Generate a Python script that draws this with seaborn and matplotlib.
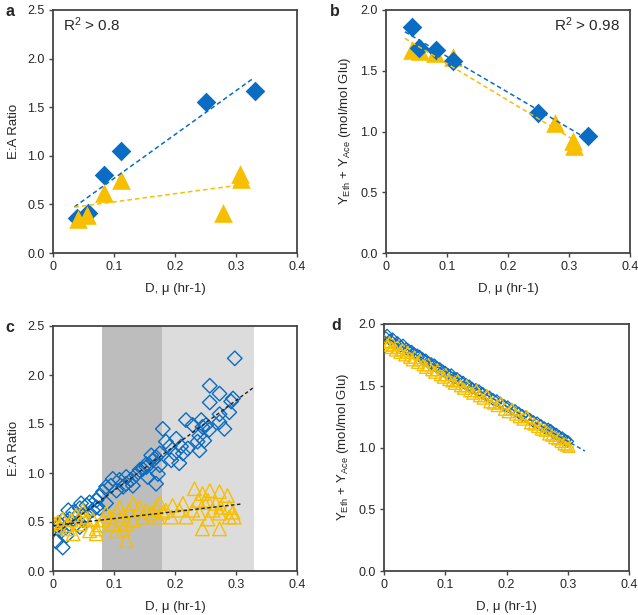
import numpy as np
import pandas as pd
import matplotlib
matplotlib.use("Agg")
import matplotlib.pyplot as plt
import seaborn as sns

# ---------------- data ----------------
# panel a: E:A ratio (chemostat)
a_blue_x = [0.040, 0.057, 0.084, 0.112, 0.250, 0.331]
a_blue_y = [0.36, 0.41, 0.80, 1.05, 1.55, 1.67]
a_yel_x = [0.041, 0.056, 0.083, 0.112, 0.278, 0.307, 0.309]
a_yel_y = [0.35, 0.39, 0.62, 0.75, 0.41, 0.81, 0.76]

# panel b: Y_Eth + Y_Ace
b_blue_x = [0.043, 0.054, 0.082, 0.110, 0.249, 0.331]
b_blue_y = [1.86, 1.69, 1.67, 1.58, 1.15, 0.96]
b_yel_x = [0.042, 0.056, 0.080, 0.110, 0.277, 0.306, 0.308]
b_yel_y = [1.67, 1.66, 1.65, 1.61, 1.07, 0.92, 0.88]

# panel c: E:A ratio (model)
c_blue_x = [0.298, 0.257, 0.273, 0.257, 0.295, 0.292, 0.289, 0.273, 0.281, 0.273,
            0.218, 0.229, 0.243, 0.245, 0.251, 0.256, 0.240, 0.248, 0.237, 0.240,
            0.180, 0.185, 0.202, 0.210, 0.191, 0.199, 0.213, 0.221, 0.194, 0.207,
            0.175, 0.169, 0.164, 0.175, 0.172, 0.169, 0.155, 0.153, 0.147, 0.142,
            0.136, 0.128, 0.131, 0.120, 0.115, 0.120, 0.109, 0.098, 0.095, 0.104,
            0.087, 0.082, 0.076, 0.071, 0.060, 0.055, 0.046, 0.044, 0.065, 0.076,
            0.087, 0.033, 0.025, 0.027, 0.016, 0.011, 0.008, 0.014, 0.022, 0.005,
            0.016, 0.038, 0.044, 0.049, 0.022, 0.055, 0.071, 0.153, 0.161]
c_blue_y = [2.17, 1.89, 1.81, 1.72, 1.76, 1.73, 1.62, 1.60, 1.45, 1.52,
            1.54, 1.49, 1.54, 1.47, 1.49, 1.44, 1.38, 1.33, 1.32, 1.23,
            1.45, 1.32, 1.35, 1.27, 1.27, 1.20, 1.20, 1.25, 1.13, 1.10,
            1.20, 1.16, 1.13, 1.08, 0.99, 0.89, 0.96, 1.06, 1.04, 1.03,
            0.98, 0.93, 0.87, 0.89, 0.86, 0.96, 0.93, 0.94, 0.87, 0.82,
            0.86, 0.81, 0.76, 0.72, 0.70, 0.67, 0.69, 0.64, 0.62, 0.64,
            0.69, 0.60, 0.62, 0.53, 0.52, 0.48, 0.45, 0.41, 0.36, 0.30,
            0.24, 0.48, 0.45, 0.52, 0.45, 0.57, 0.65, 1.09, 1.18]
c_yel_x = [0.232, 0.257, 0.245, 0.273, 0.286, 0.238, 0.248, 0.254, 0.267, 0.275,
           0.289, 0.295, 0.297, 0.289, 0.254, 0.245, 0.273, 0.218, 0.207, 0.196,
           0.213, 0.175, 0.169, 0.185, 0.172, 0.153, 0.142, 0.131, 0.125, 0.109,
           0.104, 0.115, 0.120, 0.115, 0.120, 0.093, 0.082, 0.076, 0.071, 0.087,
           0.065, 0.055, 0.049, 0.044, 0.060, 0.049, 0.038, 0.030, 0.022, 0.016,
           0.008, 0.003, 0.011, 0.025, 0.033, 0.071, 0.147, 0.161, 0.180, 0.194,
           0.229, 0.240, 0.262, 0.273, 0.131, 0.098, 0.104]
c_yel_y = [0.84, 0.82, 0.79, 0.81, 0.77, 0.72, 0.70, 0.72, 0.69, 0.65,
           0.65, 0.60, 0.55, 0.55, 0.53, 0.43, 0.43, 0.55, 0.62, 0.67,
           0.69, 0.69, 0.65, 0.62, 0.55, 0.62, 0.65, 0.69, 0.62, 0.65,
           0.60, 0.57, 0.48, 0.43, 0.31, 0.55, 0.52, 0.47, 0.43, 0.59,
           0.53, 0.52, 0.55, 0.48, 0.41, 0.62, 0.57, 0.52, 0.47, 0.53,
           0.50, 0.48, 0.45, 0.43, 0.38, 0.38, 0.55, 0.59, 0.60, 0.55,
           0.62, 0.59, 0.62, 0.59, 0.52, 0.48, 0.41]

# panel d: Y_Eth + Y_Ace (model)
d_blue_x = [0.003, 0.005, 0.010, 0.014, 0.018, 0.022, 0.027, 0.031, 0.036, 0.040,
            0.045, 0.049, 0.054, 0.058, 0.063, 0.068, 0.072, 0.077, 0.082, 0.086,
            0.091, 0.096, 0.100, 0.105, 0.110, 0.114, 0.119, 0.124, 0.129, 0.134,
            0.139, 0.144, 0.150, 0.155, 0.161, 0.167, 0.172, 0.178, 0.184, 0.190,
            0.196, 0.202, 0.208, 0.214, 0.220, 0.226, 0.232, 0.238, 0.244, 0.250,
            0.256, 0.262, 0.268, 0.272, 0.276, 0.281, 0.286, 0.291, 0.296, 0.300]
d_blue_y = [1.89, 1.91, 1.87, 1.88, 1.84, 1.85, 1.82, 1.83, 1.80, 1.79,
            1.78, 1.76, 1.75, 1.74, 1.72, 1.71, 1.69, 1.68, 1.67, 1.65,
            1.64, 1.62, 1.61, 1.59, 1.59, 1.56, 1.56, 1.54, 1.53, 1.51,
            1.50, 1.48, 1.47, 1.46, 1.44, 1.42, 1.41, 1.39, 1.38, 1.36,
            1.34, 1.33, 1.31, 1.30, 1.28, 1.26, 1.25, 1.23, 1.21, 1.20,
            1.18, 1.16, 1.15, 1.14, 1.12, 1.11, 1.09, 1.08, 1.06, 1.05]
d_yel_x = [0.002, 0.006, 0.009, 0.012, 0.015, 0.019, 0.023, 0.026, 0.030, 0.034,
           0.038, 0.042, 0.046, 0.050, 0.055, 0.059, 0.064, 0.068, 0.073, 0.078,
           0.083, 0.087, 0.092, 0.097, 0.101, 0.106, 0.111, 0.115, 0.120, 0.125,
           0.130, 0.135, 0.140, 0.145, 0.151, 0.156, 0.162, 0.168, 0.173, 0.179,
           0.185, 0.191, 0.197, 0.203, 0.209, 0.215, 0.221, 0.227, 0.233, 0.239,
           0.245, 0.251, 0.257, 0.263, 0.269, 0.274, 0.279, 0.284, 0.289, 0.294,
           0.298, 0.302]
d_yel_y = [1.86, 1.83, 1.85, 1.81, 1.83, 1.79, 1.81, 1.77, 1.79, 1.75,
           1.77, 1.73, 1.71, 1.73, 1.69, 1.71, 1.67, 1.65, 1.67, 1.63,
           1.61, 1.63, 1.59, 1.57, 1.59, 1.55, 1.54, 1.52, 1.54, 1.50,
           1.48, 1.50, 1.46, 1.44, 1.46, 1.42, 1.40, 1.42, 1.37, 1.36,
           1.34, 1.36, 1.31, 1.29, 1.31, 1.27, 1.25, 1.23, 1.25, 1.20,
           1.19, 1.17, 1.15, 1.14, 1.11, 1.10, 1.08, 1.07, 1.05, 1.03,
           1.02, 1.01]

# shaded regimes in panel c
band_dark = (0.081, 0.178)
band_light = (0.178, 0.330)

x_ticks = [0, 0.1, 0.2, 0.3, 0.4]
x_ticklabels = ["0", "0.1", "0.2", "0.3", "0.4"]
ea_ticks = [0, 0.5, 1.0, 1.5, 2.0, 2.5]
y_ticks = [0, 0.5, 1.0, 1.5, 2.0]

# ---------------- style ----------------
sns.set_style("ticks")
plt.rcParams["font.family"] = ["Liberation Sans", "DejaVu Sans"]
plt.rcParams["mathtext.fontset"] = "custom"
plt.rcParams["mathtext.rm"] = "Liberation Sans"
plt.rcParams["mathtext.it"] = "Liberation Sans"

BLUE = "#0a6cc2"
GOLD = "#f7bf00"
SPINE = "#444444"
FS = 9

fig = plt.figure(figsize=(6.38, 6.15), dpi=100)
W, H = 638, 615
def add_ax(l, t, r, b):
    return fig.add_axes([l / W, 1 - b / H, (r - l) / W, (b - t) / H])

ax_a = add_ax(53, 10, 297, 253)
ax_b = add_ax(386, 10, 630, 253)
ax_c = add_ax(53, 326, 297, 571)
ax_d = add_ax(384, 324, 629, 571)

def style(ax, ylim, yticks, ylabel):
    ax.set_xlim(0, 0.4)
    ax.set_ylim(*ylim)
    ax.set_xticks(x_ticks)
    ax.set_xticklabels(x_ticklabels)
    ax.set_yticks(yticks)
    ax.set_yticklabels([f"{v:.1f}" for v in yticks])
    ax.set_xlabel("D, μ (hr-1)", fontsize=FS + 0.5, labelpad=7)
    ax.set_ylabel(ylabel, fontsize=FS + 0.5, labelpad=5)
    ax.tick_params(labelsize=FS, length=3, width=1, color=SPINE, direction="out", pad=3)
    for s in ax.spines.values():
        s.set_color(SPINE)
        s.set_linewidth(1.3)
        s.set_visible(True)

def fitline(ax, x, y, x0, x1, color, lw=1.1, dashes=(3, 2)):
    k, c = np.polyfit(x, y, 1)
    xs = np.array([x0, x1])
    ax.plot(xs, k * xs + c, color=color, lw=lw, dashes=dashes, zorder=3)

YLAB = r"Y$_{\mathrm{Eth}}$ + Y$_{\mathrm{Ace}}$ (mol/mol Glu)"

# ---- panel a ----
sns.scatterplot(x=a_blue_x, y=a_blue_y, marker="D", s=100, color=BLUE, edgecolor=BLUE, linewidth=0, ax=ax_a, zorder=2)
sns.scatterplot(x=a_yel_x, y=a_yel_y, marker="^", s=180, color=GOLD, edgecolor=GOLD, linewidth=0, ax=ax_a, zorder=2)
fitline(ax_a, a_blue_x, a_blue_y, 0.035, 0.327, BLUE)
fitline(ax_a, a_yel_x, a_yel_y, 0.035, 0.31, GOLD)
style(ax_a, (0, 2.5), ea_ticks, "E:A Ratio")
ax_a.text(0.04, 0.94, r"R$^2$ > 0.8", transform=ax_a.transAxes, fontsize=11, va="center", ha="left")

# ---- panel b ----
sns.scatterplot(x=b_blue_x, y=b_blue_y, marker="D", s=100, color=BLUE, edgecolor=BLUE, linewidth=0, ax=ax_b, zorder=3)
sns.scatterplot(x=b_yel_x, y=b_yel_y, marker="^", s=180, color=GOLD, edgecolor=GOLD, linewidth=0, ax=ax_b, zorder=2)
fitline(ax_b, b_blue_x, b_blue_y, 0.031, 0.329, BLUE)
fitline(ax_b, b_yel_x, b_yel_y, 0.031, 0.313, GOLD)
style(ax_b, (0, 2.0), y_ticks, YLAB)
ax_b.text(0.96, 0.94, r"R$^2$ > 0.98", transform=ax_b.transAxes, fontsize=11, va="center", ha="right")

# ---- panel c ----
ax_c.axvspan(*band_dark, color="#bdbdbd", lw=0, zorder=0)
ax_c.axvspan(*band_light, color="#dcdcdc", lw=0, zorder=0)
sns.scatterplot(x=c_blue_x, y=c_blue_y, marker="D", s=55, facecolor="none", edgecolor=BLUE, linewidth=1.0, ax=ax_c, zorder=2)
sns.scatterplot(x=c_yel_x, y=c_yel_y, marker="^", s=95, facecolor="none", edgecolor=GOLD, linewidth=1.0, ax=ax_c, zorder=2)
fitline(ax_c, c_blue_x, c_blue_y, 0.0, 0.33, "#222222", lw=1.0, dashes=(2.5, 1.8))
fitline(ax_c, c_yel_x, c_yel_y, 0.0, 0.31, "#222222", lw=1.0, dashes=(2.5, 1.8))
style(ax_c, (0, 2.5), ea_ticks, "E:A Ratio")

# ---- panel d ----
sns.scatterplot(x=d_blue_x, y=d_blue_y, marker="D", s=35, facecolor="none", edgecolor=BLUE, linewidth=0.9, ax=ax_d, zorder=2)
sns.scatterplot(x=d_yel_x, y=d_yel_y, marker="^", s=75, facecolor="none", edgecolor=GOLD, linewidth=1.0, ax=ax_d, zorder=3)
fitline(ax_d, d_blue_x, d_blue_y, 0.0, 0.328, BLUE, lw=1.0)
fitline(ax_d, d_yel_x, d_yel_y, 0.0, 0.31, GOLD, lw=1.0)
style(ax_d, (0, 2.0), y_ticks, YLAB)

# panel letters
for lab, (px, py) in {"a": (10, 12), "b": (335, 12), "c": (10, 328), "d": (336, 326)}.items():
    fig.text(px / W, 1 - py / H, lab, fontsize=11.5, fontweight="bold", ha="center", va="center")

fig.savefig("out.png", dpi=100)
